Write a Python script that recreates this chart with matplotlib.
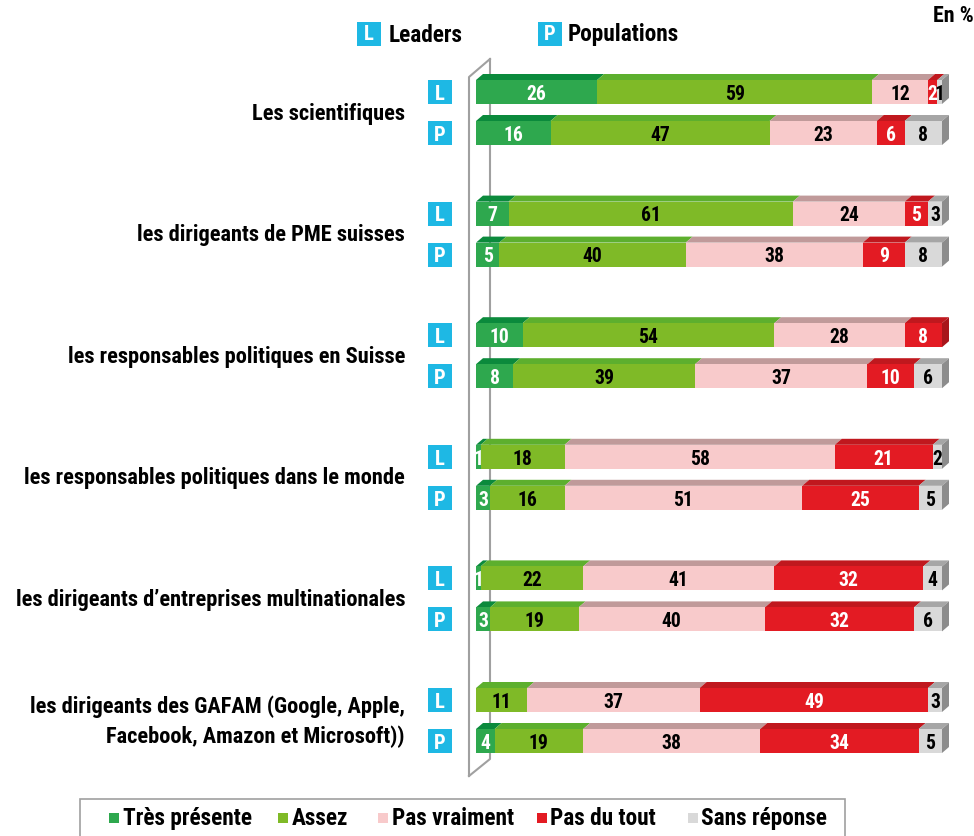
import matplotlib
matplotlib.use("Agg")
import matplotlib.pyplot as plt
from matplotlib.patches import Polygon, Rectangle
from matplotlib.lines import Line2D
from matplotlib import font_manager

# ---------------- data ----------------
categories = [
    "Les scientifiques",
    "les dirigeants de PME suisses",
    "les responsables politiques en Suisse",
    "les responsables politiques dans le monde",
    "les dirigeants d\u2019entreprises multinationales",
    "les dirigeants des GAFAM (Google, Apple,\nFacebook, Amazon et Microsoft))",
]
series_names = ["Très présente", "Assez", "Pas vraiment", "Pas du tout", "Sans réponse"]

leaders_tres = [26, 7, 10, 1, 1, 0]
leaders_assez = [59, 61, 54, 18, 22, 11]
leaders_pasvraiment = [12, 24, 28, 58, 41, 37]
leaders_pasdutout = [2, 5, 8, 21, 32, 49]
leaders_sansrep = [1, 3, 0, 2, 4, 3]

pop_tres = [16, 5, 8, 3, 3, 4]
pop_assez = [47, 40, 39, 16, 19, 19]
pop_pasvraiment = [23, 38, 37, 51, 40, 38]
pop_pasdutout = [6, 9, 10, 25, 32, 34]
pop_sansrep = [8, 8, 6, 5, 6, 5]

leaders = [leaders_tres, leaders_assez, leaders_pasvraiment, leaders_pasdutout, leaders_sansrep]
populations = [pop_tres, pop_assez, pop_pasvraiment, pop_pasdutout, pop_sansrep]

# ---------------- styles ----------------
front_colors = ["#2EA84E", "#7FBA27", "#F8CACB", "#E31B23", "#D9D9D9"]
top_colors = ["#0B8A3C", "#5DAF2E", "#C09A9A", "#C0181E", "#A6A6A6"]
side_colors = ["#0A7A34", "#4E9A22", "#B08888", "#A8161B", "#8C8C8C"]
text_colors = ["white", "black", "black", "white", "black"]
badge_color = "#1EB8E4"

entries = font_manager.fontManager.ttflist
FONT = None
for cand in ["Roboto Condensed", "Archivo Narrow", "PT Sans Narrow", "Asap Condensed",
             "IBM Plex Sans Condensed", "Barlow Semi Condensed"]:
    if any(f.name == cand and f.weight in (700, "bold") for f in entries):
        FONT = cand
        break
if FONT is None:
    FONT = "DejaVu Sans"
plt.rcParams["font.family"] = [FONT, "DejaVu Sans"]
plt.rcParams["font.weight"] = "bold"

W, H = 974, 837
fig = plt.figure(figsize=(W / 100, H / 100), dpi=100)
ax = fig.add_axes([0, 0, 1, 1])
ax.set_axis_off()
renderer = fig.canvas.get_renderer()

# fit font size: widest category label spans ~383 px at the reference
probe = fig.text(0, 0, "les responsables politiques dans le monde", fontsize=14, fontweight="bold")
wpx = probe.get_window_extent(renderer).width
probe.remove()
FS = 14 * 383.0 / wpx
VS = FS * 0.88   # value labels
LS = FS * 1.04   # legend texts

# layout (pixel based) -> data scale
x0_px, x100_px = 476, 942
pxx = (x100_px - x0_px) / 100.0
group_px = 121.6
g0_px = 113.5
ax.set_xlim(-x0_px / pxx, (W - x0_px) / pxx)
ax.set_ylim((H - g0_px) / group_px, -g0_px / group_px)

def X(px):
    return (px - x0_px) / pxx

def Y(py):
    return (py - g0_px) / group_px

off = 41 / 2 / group_px
bar_h = 24 / group_px
dx = 7 / pxx
dy = 6 / group_px

# wall
ax.add_line(Line2D([X(469), X(469), X(490)], [Y(777), Y(78), Y(60)], color="#A0A0A0", lw=1.5, zorder=1))
ax.add_line(Line2D([X(490), X(490), X(469)], [Y(60), Y(760), Y(777)], color="#A0A0A0", lw=1.5, zorder=1))


def draw_row(vals, yc):
    left = 0
    ytop = yc - bar_h / 2
    ybot = yc + bar_h / 2
    last = None
    for i, v in enumerate(vals):
        if v <= 0:
            continue
        ax.barh(yc, v, left=left, height=bar_h, color=front_colors[i], edgecolor="none", zorder=3)
        poly = Polygon([(left, ytop), (left + v, ytop), (left + v + dx, ytop - dy), (left + dx, ytop - dy)],
                       closed=True, facecolor=top_colors[i], edgecolor="none", zorder=2.5)
        ax.add_patch(poly)
        ax.text(left + v / 2, yc + 0.01, str(v), ha="center", va="center", fontsize=VS,
                fontweight="bold", color=text_colors[i], zorder=5)
        left += v
        last = i
    side = Polygon([(left, ytop), (left + dx, ytop - dy), (left + dx, ybot - dy), (left, ybot)],
                   closed=True, facecolor=side_colors[last], edgecolor="none", zorder=2.6)
    ax.add_patch(side)


def badge(xc_px, yc, letter):
    w = 24 / pxx
    ax.add_patch(Rectangle((X(xc_px) - w / 2, yc - bar_h / 2), w, bar_h, facecolor=badge_color,
                           edgecolor="none", zorder=3))
    ax.text(X(xc_px), yc + 0.01, letter, ha="center", va="center", color="white", fontsize=VS * 1.05,
            fontweight="bold", zorder=4)


for g, cat in enumerate(categories):
    yl = g - off
    yp = g + off
    draw_row([s[g] for s in leaders], yl)
    draw_row([s[g] for s in populations], yp)
    badge(440, yl, "L")
    badge(440, yp, "P")
    ax.text(X(405), g, cat, ha="right", va="center", fontsize=FS, fontweight="bold",
            color="black", linespacing=1.45, zorder=4)

# top legend
def fig_px(xp, yp):
    return xp / W, 1 - yp / H

for xc, letter, label, tx in [(369, "L", "Leaders", 389), (550, "P", "Populations", 568)]:
    fx, fy = fig_px(xc - 12, 47)
    fig.add_artist(Rectangle((fx, fy), 24 / W, 24 / H, transform=fig.transFigure,
                             facecolor=badge_color, edgecolor="none"))
    fig.text(*fig_px(xc, 35), letter, ha="center", va="center", color="white", fontsize=VS * 1.05, fontweight="bold")
    fig.text(*fig_px(tx, 35), label, ha="left", va="center", color="black", fontsize=LS, fontweight="bold")

fig.text(*fig_px(974, 16), "En %", ha="right", va="center", fontsize=FS * 0.98, fontweight="bold")

# bottom legend
fx, fy = fig_px(80, 845)
fig.add_artist(Rectangle((fx, fy), (845 - 80) / W, 45 / H, transform=fig.transFigure,
                         facecolor="none", edgecolor="#A0A0A0", lw=1.2))
leg_sq = [109, 278, 378, 537, 688]
leg_tx = [123, 292, 392, 550, 701]
for i, name in enumerate(series_names):
    sx, sy = fig_px(leg_sq[i], 824)
    fig.add_artist(Rectangle((sx, sy), 10 / W, 10 / H, transform=fig.transFigure,
                             facecolor=front_colors[i], edgecolor="none"))
    fig.text(*fig_px(leg_tx[i], 819), name, ha="left", va="center", fontsize=LS, fontweight="bold")

fig.savefig("out.png", dpi=100)
